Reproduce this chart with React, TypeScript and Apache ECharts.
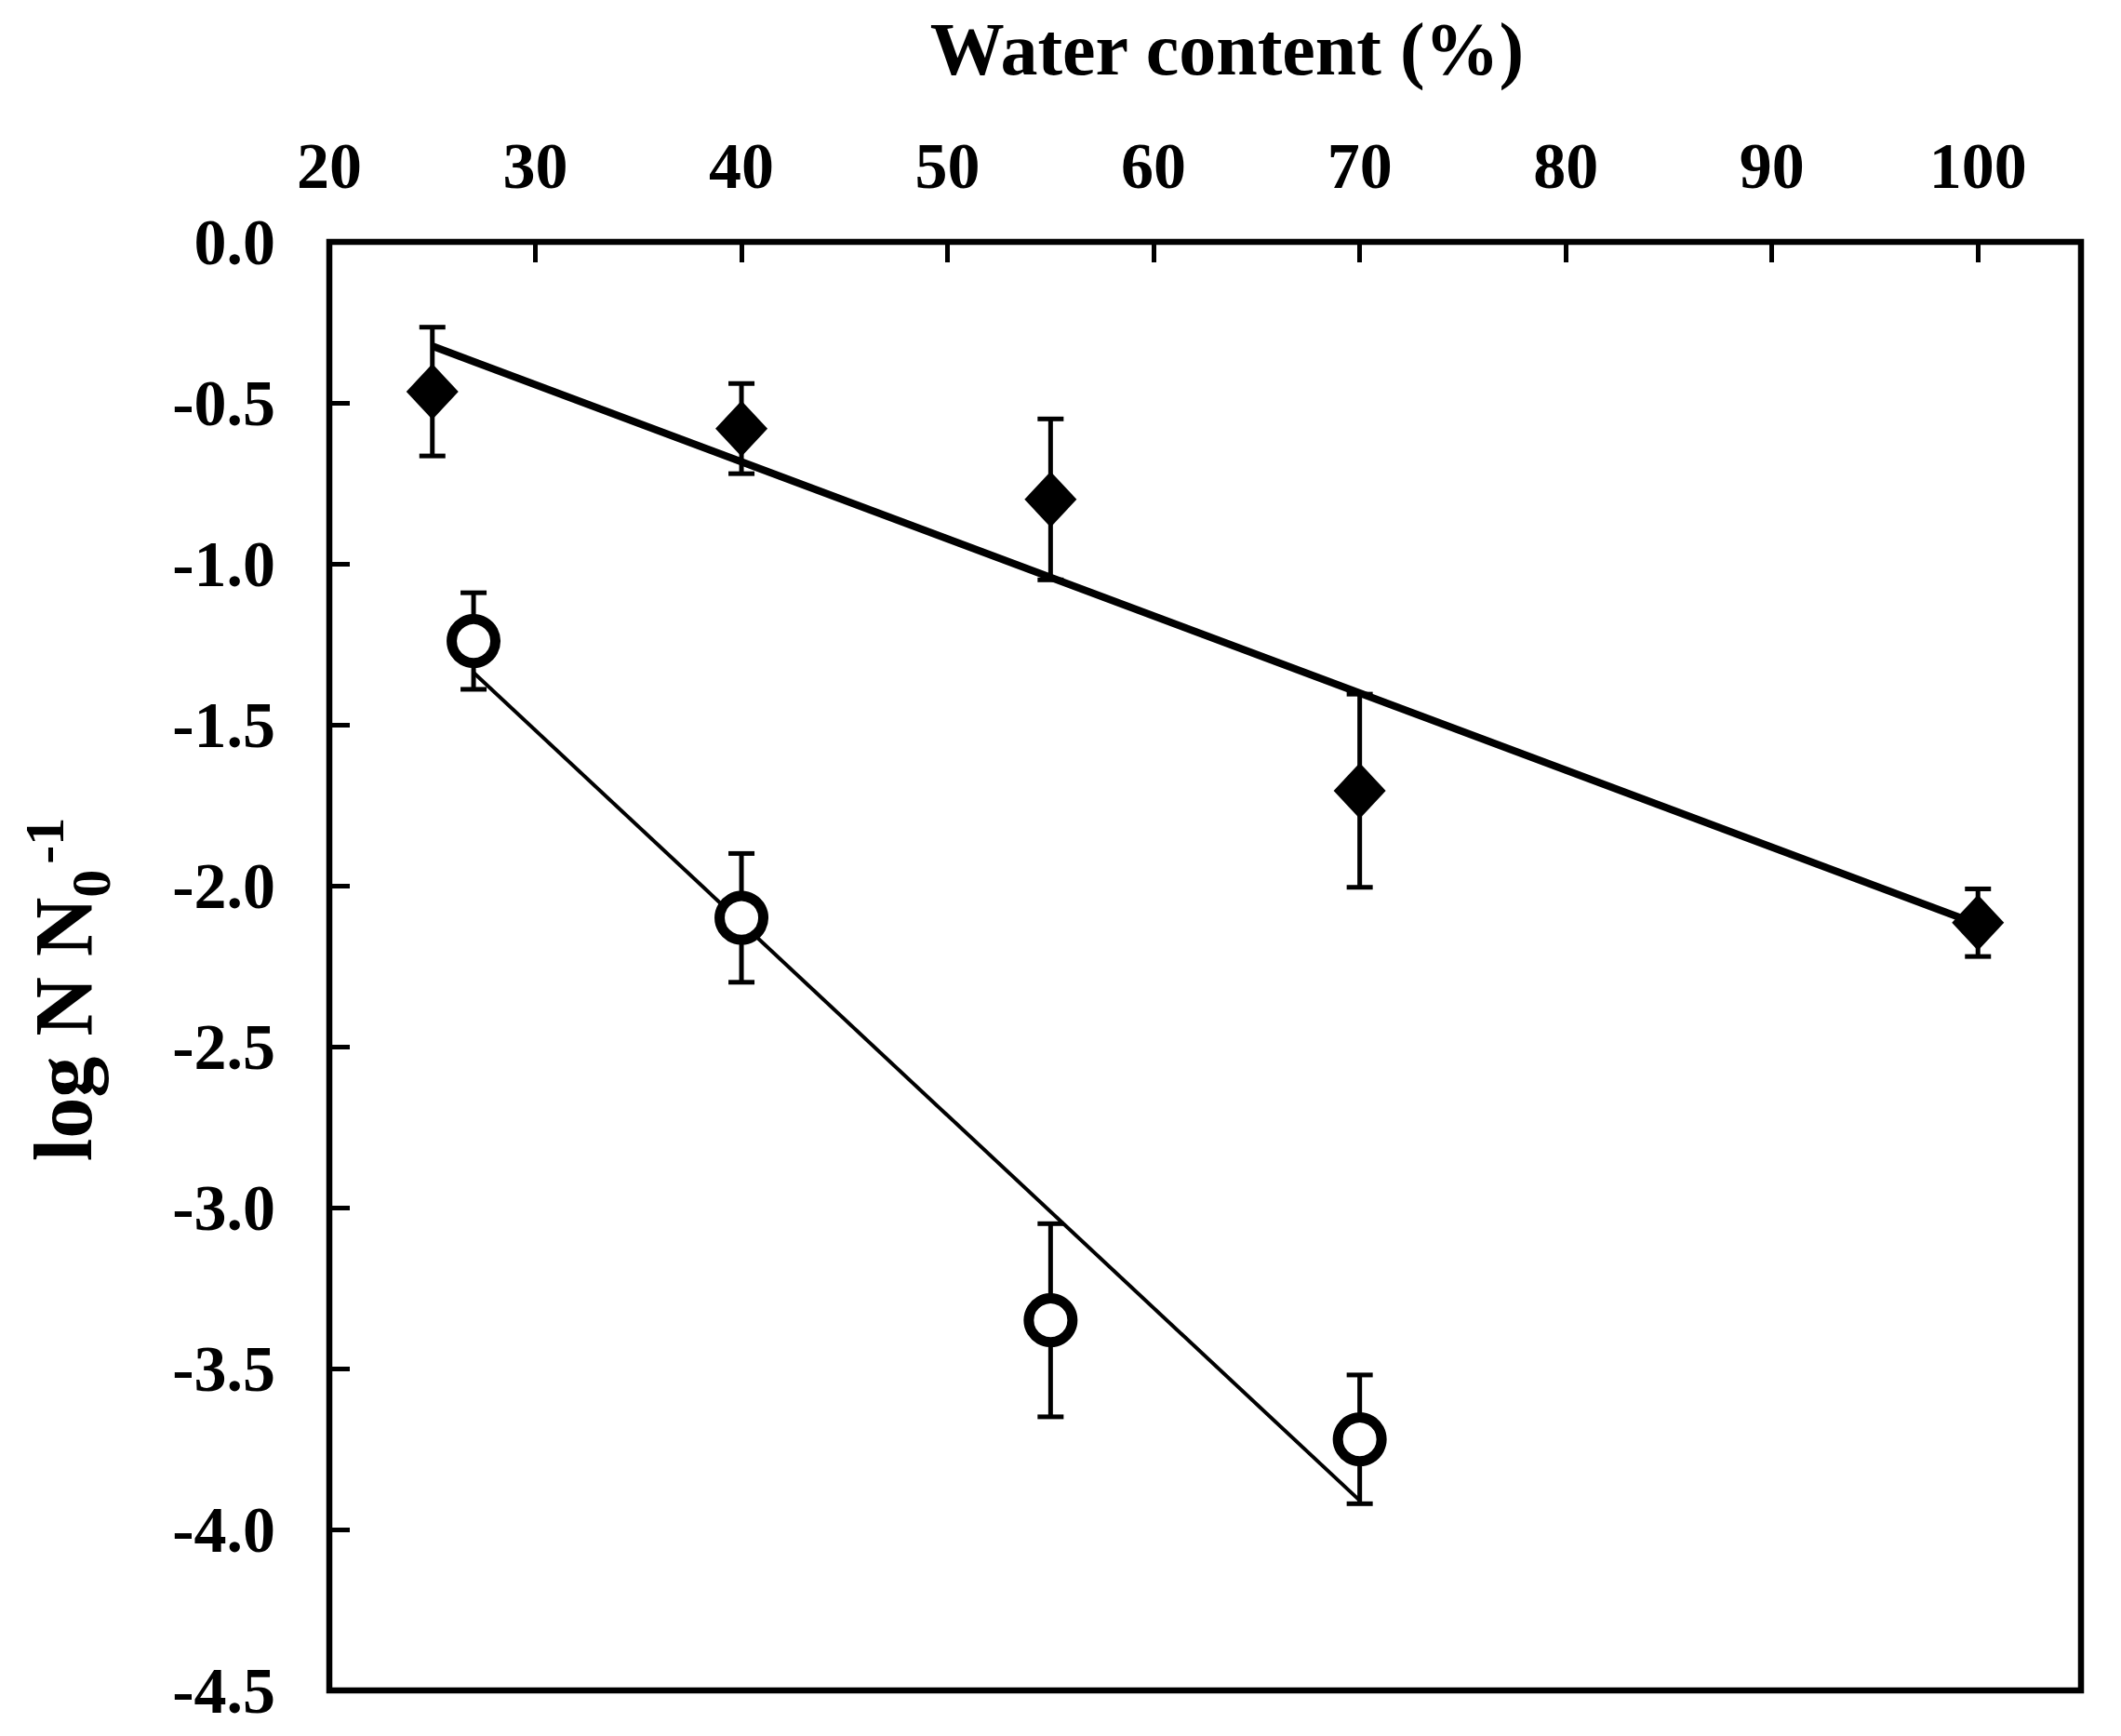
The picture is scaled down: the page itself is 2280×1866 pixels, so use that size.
import { useEffect, useRef } from "react";
import * as echarts from "echarts";

// filled diamonds
const diamondX = [25, 40, 55, 70, 100];
const diamondY = [-0.465, -0.58, -0.8, -1.705, -2.115];
const diamondErr = [0.2, 0.14, 0.25, 0.3, 0.105];
const diamondFitX = [25, 100];
const diamondFitY = [-0.324, -2.12];

// open circles
const circleX = [27, 40, 55, 70];
const circleY = [-1.24, -2.1, -3.35, -3.72];
const circleErr = [0.15, 0.2, 0.3, 0.2];
const circleFitX = [27, 70];
const circleFitY = [-1.338, -3.91];

const FONT = '"Liberation Serif", "Times New Roman", serif';

function errorSeries(xs: number[], ys: number[], errs: number[]) {
  return {
    type: "custom",
    silent: true,
    z: 2,
    data: xs.map((x, i) => [x, ys[i] - errs[i], ys[i] + errs[i]]),
    renderItem: (_params: any, api: any) => {
      const x = api.value(0);
      const top = api.coord([x, api.value(2)]);
      const bot = api.coord([x, api.value(1)]);
      const cap = 14;
      const style = { stroke: "#000", lineWidth: 5 };
      return {
        type: "group",
        children: [
          { type: "line", shape: { x1: top[0], y1: top[1], x2: bot[0], y2: bot[1] }, style },
          { type: "line", shape: { x1: top[0] - cap, y1: top[1], x2: top[0] + cap, y2: top[1] }, style },
          { type: "line", shape: { x1: bot[0] - cap, y1: bot[1], x2: bot[0] + cap, y2: bot[1] }, style },
        ],
      };
    },
  };
}

export default function App() {
  const chartRef = useRef<HTMLDivElement>(null);

  useEffect(() => {
    document.body.style.margin = "0";
    if (!chartRef.current) return;
    const chart = echarts.init(chartRef.current, undefined, { renderer: "svg" });

    const option: any = {
      animation: false,
      backgroundColor: "#fff",
      title: {
        text: "Water content (%)",
        left: 1314,
        textAlign: "center",
        top: 8,
        textStyle: { fontFamily: FONT, fontWeight: "bold", fontSize: 80, color: "#000" },
      },
      grid: {
        left: 335,
        right: 43,
        top: 260,
        bottom: 49,
        show: true,
        borderColor: "#000",
        borderWidth: 6.5,
        backgroundColor: "transparent",
      },
      xAxis: {
        type: "value",
        position: "top",
        min: 20,
        max: 105,
        interval: 10,
        axisLine: { show: false },
        axisTick: { show: true, inside: true, length: 22, lineStyle: { color: "#000", width: 5 } },
        splitLine: { show: false },
        axisLabel: {
          margin: 47,
          fontFamily: FONT,
          fontWeight: "bold",
          fontSize: 70,
          color: "#000",
          formatter: (v: number) => (v > 100 ? "" : String(v)),
        },
      },
      yAxis: {
        type: "value",
        min: -4.5,
        max: 0,
        interval: 0.5,
        axisLine: { show: false },
        axisTick: { show: true, inside: true, length: 22, lineStyle: { color: "#000", width: 5 } },
        splitLine: { show: false },
        axisLabel: {
          margin: 58,
          fontFamily: FONT,
          fontWeight: "bold",
          fontSize: 70,
          color: "#000",
          formatter: (v: number) => v.toFixed(1),
        },
        name: "{a|log N N}{b|0}{c|-1}",
        nameLocation: "middle",
        nameRotate: 90,
        nameGap: 226,
        nameTextStyle: {
          fontFamily: FONT,
          fontWeight: "bold",
          fontSize: 88,
          color: "#000",
          padding: [0, 50, 0, 0],
          rich: {
            a: { fontFamily: FONT, fontWeight: "bold", fontSize: 88, lineHeight: 120, verticalAlign: "middle", color: "#000" },
            b: { fontFamily: FONT, fontWeight: "bold", fontSize: 60, lineHeight: 60, verticalAlign: "bottom", color: "#000" },
            c: { fontFamily: FONT, fontWeight: "bold", fontSize: 60, lineHeight: 60, verticalAlign: "top", padding: [10, 0, 0, 6], color: "#000" },
          },
        },
      },
      series: [
        errorSeries(diamondX, diamondY, diamondErr),
        errorSeries(circleX, circleY, circleErr),
        {
          type: "line",
          z: 3,
          data: diamondFitX.map((x, i) => [x, diamondFitY[i]]),
          showSymbol: false,
          lineStyle: { color: "#000", width: 8 },
        },
        {
          type: "line",
          z: 3,
          data: circleFitX.map((x, i) => [x, circleFitY[i]]),
          showSymbol: false,
          lineStyle: { color: "#000", width: 4 },
        },
        {
          type: "scatter",
          z: 4,
          symbol: "diamond",
          symbolSize: [56, 60],
          data: diamondX.map((x, i) => [x, diamondY[i]]),
          itemStyle: { color: "#000", opacity: 1 },
        },
        {
          type: "scatter",
          z: 4,
          symbol: "circle",
          symbolSize: 47,
          data: circleX.map((x, i) => [x, circleY[i]]),
          itemStyle: { color: "#fff", borderColor: "#000", borderWidth: 11, opacity: 1 },
        },
      ],
    };

    chart.setOption(option);
    return () => chart.dispose();
  }, []);

  return <div ref={chartRef} style={{ width: "2280px", height: "1866px" }} />;
}
